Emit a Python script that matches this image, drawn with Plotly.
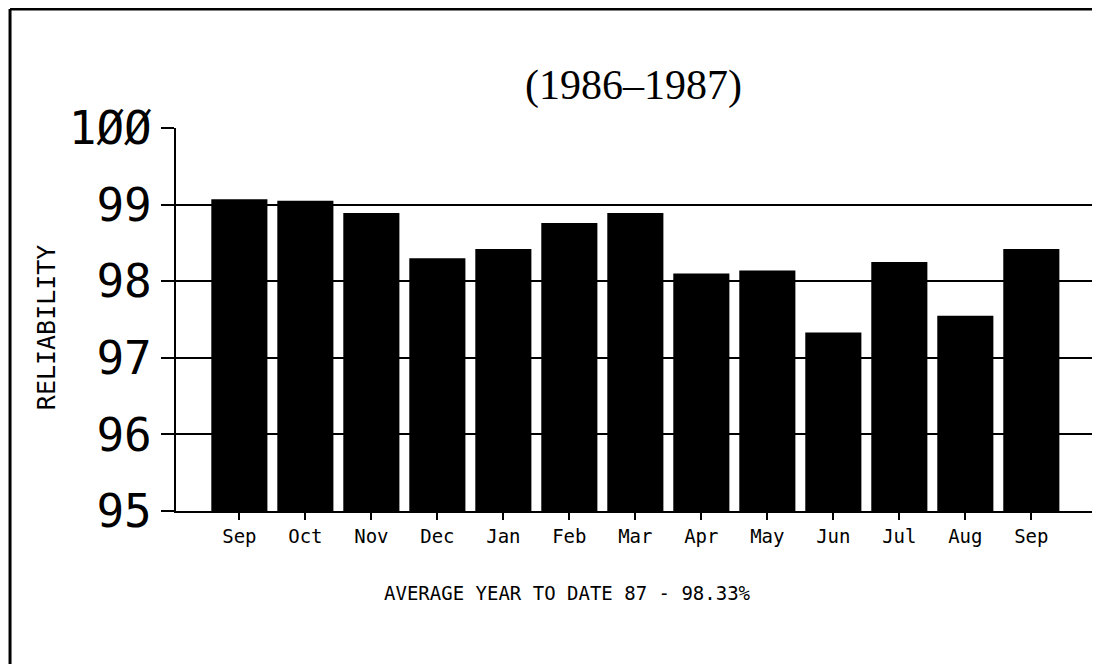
import plotly.graph_objects as go

months = ["Sep", "Oct", "Nov", "Dec", "Jan", "Feb", "Mar", "Apr", "May", "Jun", "Jul", "Aug", "Sep"]
reliability = [99.07, 99.05, 98.89, 98.30, 98.42, 98.76, 98.89, 98.10, 98.14, 97.33, 98.25, 97.55, 98.42]
y_ticks = [95, 96, 97, 98, 99, 100]
title_text = "(1986–1987)"
footer_text = "AVERAGE YEAR TO DATE 87 - 98.33%"
y_title = "RELIABILITY"

x_pos = list(range(len(months)))

fig = go.Figure()
fig.add_trace(go.Bar(
    x=x_pos, y=reliability, width=0.85,
    marker=dict(color="black", line=dict(width=0)),
    hoverinfo="x+y",
))

mono = "DejaVu Sans Mono"

fig.update_layout(
    width=1100, height=664,
    margin=dict(l=168, r=12, t=120, b=161),
    plot_bgcolor="white", paper_bgcolor="white",
    showlegend=False,
    xaxis=dict(
        range=[-0.96, 12.98],
        tickvals=x_pos, ticktext=months,
        tickfont=dict(family=mono, size=19, color="black"),
        showline=True, linecolor="black", linewidth=2,
        ticks="outside", ticklen=7, tickwidth=2, tickcolor="black",
        showgrid=False, zeroline=False,
    ),
    yaxis=dict(
        range=[95, 100],
        tickvals=y_ticks,
        ticktext=[str(v).replace("0", "Ø") if v == 100 else str(v) for v in y_ticks],
        tickfont=dict(family=mono, size=46, color="black"),
        showline=True, linecolor="black", linewidth=2,
        ticks="outside", ticklen=13, tickwidth=2, tickcolor="black",
        showgrid=True, gridcolor="black", gridwidth=2,
        zeroline=False,
    ),
    annotations=[
        dict(text=title_text, xref="paper", yref="paper", x=0.497, y=1.11,
             showarrow=False, font=dict(family="Liberation Serif", size=42, color="black"),
             xanchor="center", yanchor="middle"),
        dict(text=y_title, xref="paper", yref="paper", x=-0.1413, y=0.48,
             showarrow=False, textangle=-90,
             font=dict(family=mono, size=25, color="black"),
             xanchor="center", yanchor="middle"),
        dict(text=footer_text, xref="paper", yref="paper", x=0.426, y=-0.215,
             showarrow=False, font=dict(family=mono, size=19, color="black"),
             xanchor="center", yanchor="middle"),
    ],
    shapes=[
        dict(type="line", xref="paper", yref="paper", x0=-0.1804, x1=-0.1804, y0=-0.5, y1=1.3107,
             line=dict(color="black", width=3)),
        dict(type="line", xref="paper", yref="paper", x0=-0.1804, x1=1.1, y0=1.3107, y1=1.3107,
             line=dict(color="black", width=3)),
    ],
)

fig.write_html("out.html")
